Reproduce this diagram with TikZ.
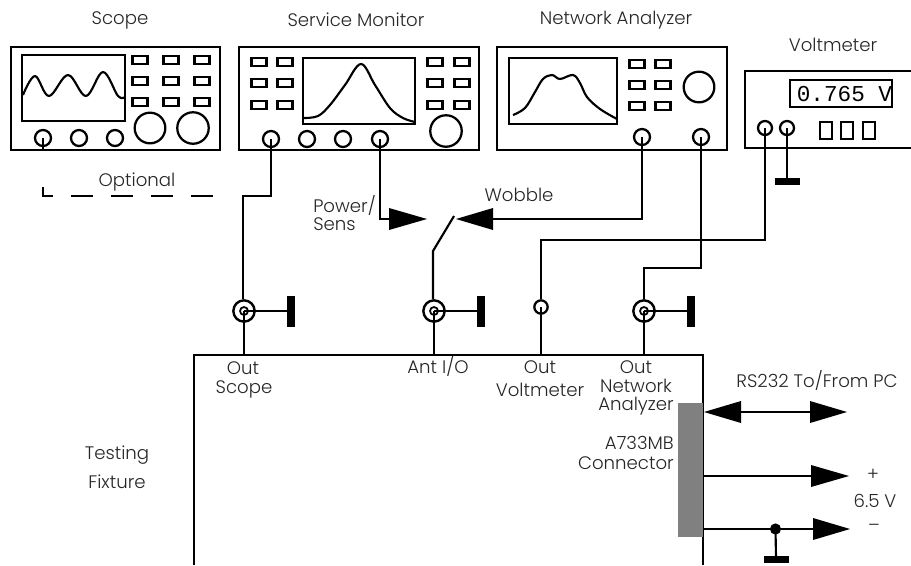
\documentclass[tikz,border=0pt]{standalone}
\usepackage{fontspec}
\setmainfont{Poppins Light}
\newfontfamily\monof{Liberation Mono}
\tikzset{
 x=0.75pt,y=-0.75pt,
 wire/.style={line width=1.6pt,black,line join=miter},
 frame/.style={line width=1.7pt,black},
 jack/.style={circle,draw,line width=1.7pt,minimum size=12pt,inner sep=0pt},
 bnc/.style={circle,draw,line width=1.8pt,minimum size=16pt,inner sep=0pt},
 bnccore/.style={circle,draw,line width=1.3pt,minimum size=6pt,inner sep=0pt},
 lab/.style={font=\fontsize{13.6pt}{15pt}\selectfont,text=black!85,inner sep=0pt},
 trace/.style={line width=1.6pt,black,line join=round},
}
\newcommand{\btn}[2]{\draw[frame] (#1-7.5,#2-4) rectangle (#1+7.5,#2+4);}
\newcommand{\tri}[3]{\fill[black] (#1,#3-11) -- (#2,#3) -- (#1,#3+11) -- cycle;}
\newcommand{\gndh}[2]{\fill[black] (#1-12.5,#2-3.5) rectangle (#1+12.5,#2+3.5);}
\newcommand{\gndv}[2]{\fill[black] (#1-4,#2-15.5) rectangle (#1+4,#2+15.5);}
\begin{document}
\begin{tikzpicture}
\useasboundingbox (0,0) rectangle (911,565);
\clip (0,0) rectangle (911,565);
% Instruments
\node[frame,draw,minimum width=156.75pt,minimum height=77pt,inner sep=0pt] (scope) at (115.5,98.5) {};
\node[frame,draw,minimum width=180pt,minimum height=77pt,inner sep=0pt] (svc) at (359,98.5) {};
\node[frame,draw,minimum width=172.5pt,minimum height=77pt,inner sep=0pt] (na) at (612,98.5) {};
\draw[frame] (911,71) -- (745,71) -- (745,148) -- (911,148);
% Screens
\draw[frame] (22,55) rectangle (125,121);
\draw[frame] (303,58) rectangle (415,124);
\draw[frame] (509,58) rectangle (617,124);
\draw[frame] (790,80) rectangle (892,107);
\node[inner sep=0pt,font=\monof\fontsize{17pt}{17pt}\selectfont] (reading) at (844.5,94) {0.765 V};
% Traces
\draw[trace] plot[smooth,tension=0.6] coordinates {(23,95) (35,76) (49,96) (68,75) (86,96) (103,72) (118,96) (125,97)};
\draw[trace] plot[smooth,tension=0.6] coordinates {(304,118) (318,116) (330,105) (345,85) (361,64) (375,85) (390,108) (403,118) (415,122)};
\draw[trace] plot[smooth,tension=0.6] coordinates {(513,115) (525,108) (535,92) (543,79) (552,75) (560,79) (573,75) (580,83) (587,97) (600,109) (617,119)};
% Buttons
\foreach \cx in {140,171,202} \foreach \cy in {60,81,102} {\btn{\cx}{\cy}}
\foreach \cx in {259,285,435,462} \foreach \cy in {62,83,105} {\btn{\cx}{\cy}}
\foreach \cx in {637,663} \foreach \cy in {64,85,106} {\btn{\cx}{\cy}}
\foreach \cx in {826,847,869} {\draw[frame] (\cx-6,122) rectangle (\cx+6,139);}
% Knobs
\draw[frame] (150,128) circle[radius=11.5pt];
\draw[frame] (193,128) circle[radius=11.8pt];
\draw[frame] (446,131) circle[radius=11.8pt];
\draw[frame] (699,87) circle[radius=11.5pt];
% Jacks
\node[jack] (sc1) at (43,138) {};
\node[jack] (sc2) at (79,138) {};
\node[jack] (sc3) at (115,138) {};
\node[jack] (sm1) at (271,139) {};
\node[jack] (sm2) at (307,139) {};
\node[jack] (sm3) at (343,139) {};
\node[jack] (sm4) at (380,139) {};
\node[jack] (na1) at (642,137) {};
\node[jack] (na2) at (701,137) {};
\node[jack,minimum size=10.5pt] (vm1) at (765,128) {};
\node[jack,minimum size=10.5pt] (vm2) at (787,128) {};
% Fixture
\draw[line width=1.6pt] (194,565) -- (194,355) -- (703,355) -- (703,565);
\node[draw=none,fill=black!50,minimum width=18.75pt,minimum height=100.5pt,inner sep=0pt] (conn) at (690.5,470) {};
% Front connectors
\node[bnc] (b1) at (244,311) {};
\node[bnccore] (c1) at (244,311) {};
\node[bnc] (b2) at (434,311) {};
\node[bnccore] (c2) at (434,311) {};
\node[jack,minimum size=10pt] (b3) at (541,307) {};
\node[bnc] (b4) at (644,311) {};
\node[bnccore] (c4) at (644,311) {};
\coordinate (g1) at (288,311); \coordinate (g2) at (478,311); \coordinate (g4) at (688,311);
\coordinate (t1) at (244,355); \coordinate (t2) at (434,355); \coordinate (t3) at (541,355); \coordinate (t4) at (644,355);
\gndv{291}{311}\gndv{481}{311}\gndv{691}{311}
% Ground stubs and tails
\draw[wire] (b1.center) -- (g1);
\draw[wire] (b2.center) -- (g2);
\draw[wire] (b4.center) -- (g4);
\draw[wire] (c1.center) -- (t1);
\draw[wire] (c2.center) -- (t2);
\draw[wire] (c4.center) -- (t4);
% Scope optional link
\coordinate (dash0) at (43,187);
\coordinate (dashc) at (43,196);
\coordinate (dash1) at (215,196);
\coordinate (junc) at (243,196);
\draw[wire] (sc1.center) -- (sc1.center |- scope.south);
\draw[wire,dash pattern=on 16.5pt off 13.5pt,dash phase=2.25pt] (dash0) -- (dashc) -- (dash1);
\draw[wire] (sm1.center) |- (junc) -- (junc |- b1.north);
% Power / Sens
\coordinate (pwrend) at (391,219);
\draw[wire] (sm4.center) |- (pwrend);
\tri{389}{427}{219}
% Wobble
\coordinate (wobend) at (490,219);
\draw[wire] (na1.center) |- (wobend);
\tri{493}{456}{219}
% Switch
\coordinate (swpivot) at (433,251);
\coordinate (swtip) at (454,216);
\draw[wire] (b2.north -| swpivot) -- (swpivot) -- (swtip);
% Voltmeter
\draw[wire] (vm1.center) -- (765,240) -| (b3.north);
\draw[wire] (b3.center) -- (t3);
\coordinate (vg) at (787,181);
\draw[wire] (vm2.center) -- (vg);
\gndh{787.5}{181.5}
% Analyzer output
\draw[wire] (na2.center) -- (701,268) -| (b4.north);
% RS232
\draw[wire] (741,412) -- (810,412);
\tri{741}{704}{412}
\tri{810}{847}{412}
% Supply
\coordinate (dot) at (775.5,529);
\draw[wire] (703,476) -- (812,476);
\tri{811}{849}{476}
\draw[wire] (703,529) -- (814,529);
\tri{813}{850}{529}
\fill[black] (dot) circle[radius=4.2pt];
\draw[wire] (dot) -- (776,557);
\gndh{776.5}{559.5}
% Labels
\node[lab] (l1) at (120,20) {Scope};
\node[lab] (l2) at (356,20) {Service Monitor};
\node[lab] (l3) at (616,20) {Network Analyzer};
\node[lab] (l4) at (833,45) {Voltmeter};
\node[lab] (l5) at (137,182) {Optional};
\node[lab,anchor=west] (l6) at (313,205) {Power/};
\node[lab,anchor=west] (l7) at (313,224) {Sens};
\node[lab] (l8) at (519,195) {Wobble};
\node[lab] (l9) at (243,368) {Out};
\node[lab] (l10) at (244,389) {Scope};
\node[lab] (l11) at (438,366) {Ant I/O};
\node[lab] (l12) at (540,367) {Out};
\node[lab] (l13) at (540,390) {Voltmeter};
\node[lab] (l14) at (636,367) {Out};
\node[lab] (l15) at (636,386) {Network};
\node[lab] (l16) at (636,406) {Analyzer};
\node[lab] (l17) at (817,380) {RS232 To/From PC};
\node[lab,anchor=east] (l18) at (674,443) {A733MB};
\node[lab,anchor=east] (l19) at (674,463) {Connector};
\node[lab] (l20) at (873,475) {+};
\node[lab] (l21) at (875,501) {6.5 V};
\node[lab] (l22) at (874,528) {–};
\node[lab] (l23) at (117,455) {Testing};
\node[lab] (l24) at (117,482) {Fixture};
\end{tikzpicture}
\end{document}
